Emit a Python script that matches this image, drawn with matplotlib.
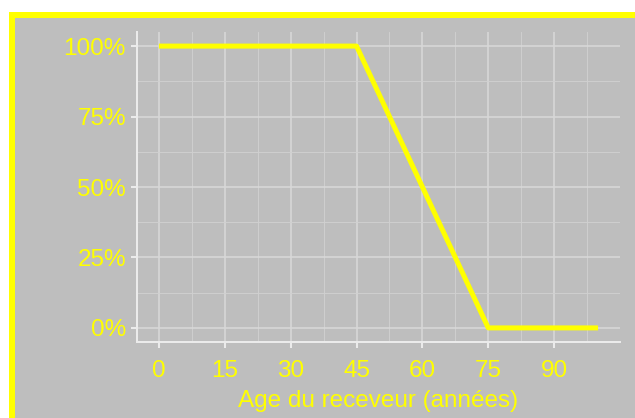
import matplotlib
matplotlib.use("Agg")
import matplotlib.pyplot as plt
from matplotlib.patches import Rectangle
from matplotlib.ticker import FixedLocator, PercentFormatter

age = [0, 45, 75, 100]
share = [1.0, 1.0, 0.0, 0.0]
xticks = [0, 15, 30, 45, 60, 75, 90]
yticks = [0, 0.25, 0.5, 0.75, 1.0]
xlabel = "Age du receveur (années)"

plt.rcParams['font.family'] = ['Liberation Sans', 'DejaVu Sans']
W, H = 635, 418
fig = plt.figure(figsize=(W/100, H/100), dpi=100)
fig.patch.set_facecolor('white')

bg = '#BEBEBE'
yellow = '#FFFF00'
rect = Rectangle((12/W, -10/H), (W+20)/W, (H - 15 + 10)/H, transform=fig.transFigure,
                 facecolor=bg, edgecolor=yellow, linewidth=6*0.72, zorder=-10)
fig.patches.append(rect)

ax = fig.add_axes([137/W, (H-342)/H, (620-137)/W, (342-32)/H])
ax.set_zorder(1)
ax.set_facecolor(bg)
ax.plot(age, share, color=yellow, linewidth=5*0.72, solid_capstyle='butt', zorder=3)
ax.set_xlim(-5, 105)
ax.set_ylim(-0.05, 1.05)
ax.set_xticks(xticks)
ax.set_yticks(yticks)
ax.xaxis.set_minor_locator(FixedLocator([7.5, 22.5, 37.5, 52.5, 67.5, 82.5, 97.5]))
ax.yaxis.set_minor_locator(FixedLocator([0.125, 0.375, 0.625, 0.875]))
ax.yaxis.set_major_formatter(PercentFormatter(1.0, decimals=0))
ax.grid(which='major', color='#D8D8D8', linewidth=1.6*0.72)
ax.grid(which='minor', color='#D0D0D0', linewidth=0.9*0.72)
ax.set_axisbelow(True)
for s in ['top', 'right']:
    ax.spines[s].set_visible(False)
for s in ['left', 'bottom']:
    ax.spines[s].set_color('#EBEBEB')
    ax.spines[s].set_linewidth(2*0.72)
ax.tick_params(which='major', color='#EBEBEB', length=4, width=1.5, labelcolor=yellow,
               labelsize=17.5)
ax.tick_params(axis='x', which='major', pad=9)
ax.tick_params(axis='y', which='major', pad=4)
ax.tick_params(which='minor', length=0)
ax.set_xlabel(xlabel, color=yellow, fontsize=17.5, labelpad=5.5)
fig.savefig('out.png', dpi=100)
